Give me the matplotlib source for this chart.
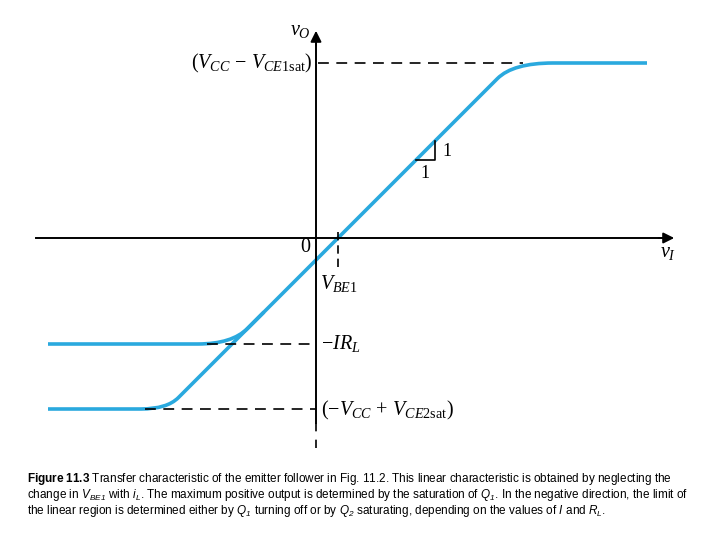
import matplotlib
matplotlib.use("Agg")
import matplotlib.pyplot as plt
from matplotlib.path import Path
from matplotlib.patches import PathPatch
import numpy as np

plt.rcParams["mathtext.fontset"] = "custom"
plt.rcParams["mathtext.rm"] = "Liberation Serif"
plt.rcParams["mathtext.it"] = "Liberation Serif:italic"
plt.rcParams["mathtext.sf"] = "Liberation Sans:italic"
plt.rcParams["mathtext.bf"] = "Liberation Sans:bold"

# levels (arbitrary volts)
v_top = 8.75          # V_CC - V_CE1sat
v_irl = -5.3          # -I R_L
v_bot = -8.55         # -V_CC + V_CE2sat
v_be1 = 1.1

# main transfer curve: corner points and rounding (before, after) at each corner
main_x = [-13.4, -7.45, 9.85, 16.55]
main_y = [-8.55, -8.55, 8.75, 8.75]
main_r = [(1.3, 0.8), (1.1, 2.0)]

# branch limited by Q1 turning off
off_x = [-13.4, -4.2, -2.6]
off_y = [-5.3, -5.3, -3.7]
off_r = [(1.7, 1.1)]

blue = "#2aa9de"


def rounded(xs, ys, radii):
    pts = np.column_stack([xs, ys]).astype(float)
    verts, codes = [pts[0]], [Path.MOVETO]
    for i in range(1, len(pts) - 1):
        a, b, c = pts[i - 1], pts[i], pts[i + 1]
        din = (b - a) / np.hypot(*(b - a))
        dout = (c - b) / np.hypot(*(c - b))
        r0, r1 = radii[i - 1]
        verts += [b - din * r0, b, b + dout * r1]
        codes += [Path.LINETO, Path.CURVE3, Path.CURVE3]
    verts.append(pts[-1])
    codes.append(Path.LINETO)
    return Path(verts, codes)


fig = plt.figure(figsize=(7.2, 5.4), dpi=100)
ax = fig.add_axes([0, 0, 1, 1])
ax.set_xlim(-316 / 20, (720 - 316) / 20)
ax.set_ylim(-(540 - 238) / 20, 238 / 20)
ax.axis("off")

# axes
ax.plot([-14, 17.3], [0, 0], color="k", lw=1.4)
ax.annotate("", xy=(18.05, 0), xytext=(17.0, 0),
            arrowprops=dict(arrowstyle="-|>", color="k", lw=1.4, mutation_scale=16))
ax.plot([0, 0], [-9.25, 9.8], color="k", lw=1.4)
ax.annotate("", xy=(0, 10.5), xytext=(0, 9.5),
            arrowprops=dict(arrowstyle="-|>", color="k", lw=1.4, mutation_scale=16))
ax.plot([0, 0], [-9.25, -10.7], color="k", lw=1.2, dashes=(5, 5))

# dashed reference levels
dash = dict(color="k", lw=1.2, dashes=(6.5, 4.5))
ax.plot([0.1, 10.35], [v_top, v_top], **dash)
ax.plot([-5.45, 0], [v_irl, v_irl], **dash)
ax.plot([-8.55, 0], [v_bot, v_bot], **dash)
ax.plot([v_be1, v_be1], [0.3, -1.7], color="k", lw=1.2, dashes=(5, 3))

# curves
for xs, ys, rs in [(main_x, main_y, main_r), (off_x, off_y, off_r)]:
    ax.add_patch(PathPatch(rounded(xs, ys, rs), fill=False, edgecolor=blue,
                           lw=2.6, capstyle="butt", joinstyle="round"))

# slope triangle
tx, tw = 5.0, 0.95
ax.plot([tx, tx + tw, tx + tw], [tx - v_be1, tx - v_be1, tx - v_be1 + tw], color="k", lw=1.2)
ax.text(6.3, 4.3, "1", fontsize=13, family="Liberation Serif", ha="left", va="center")
ax.text(5.45, 3.2, "1", fontsize=13, family="Liberation Serif", ha="center", va="center")

# labels
fs = 14.5
ax.text(-0.8, 10.35, r"$v_O$", fontsize=fs, ha="center", va="center")
ax.text(-0.15, v_top, r"$(V_{CC}\,-\,V_{CE1\mathrm{sat}})$", fontsize=fs, ha="right", va="center")
ax.text(-0.5, -0.45, r"$0$", fontsize=fs, ha="center", va="center")
ax.text(0.2, -2.25, r"$V_{BE1}$", fontsize=fs, ha="left", va="center")
ax.text(17.6, -0.75, r"$v_I$", fontsize=fs, ha="center", va="center")
ax.text(0.25, v_irl, r"$-IR_L$", fontsize=fs, ha="left", va="center")
ax.text(0.25, v_bot - 0.05, r"$(-V_{CC}\,+\,V_{CE2\mathrm{sat}})$", fontsize=fs, ha="left", va="center")

# caption
cap = [
    r"$\mathbf{Figure\ 11.3}$ Transfer characteristic of the emitter follower in Fig. 11.2. This linear characteristic is obtained by neglecting the",
    r"change in $\mathsf{V_{BE1}}$ with $\mathsf{i_L}$. The maximum positive output is determined by the saturation of $\mathsf{Q_1}$. In the negative direction, the limit of",
    r"the linear region is determined either by $\mathsf{Q_1}$ turning off or by $\mathsf{Q_2}$ saturating, depending on the values of $\mathsf{I}$ and $\mathsf{R_L}$.",
]
for i, line in enumerate(cap):
    fig.text(27 / 720, 1 - (482 + 16 * i) / 540, line, fontsize=8.45,
             family="Liberation Sans", ha="left", va="baseline")

fig.savefig("out.png", dpi=100)
